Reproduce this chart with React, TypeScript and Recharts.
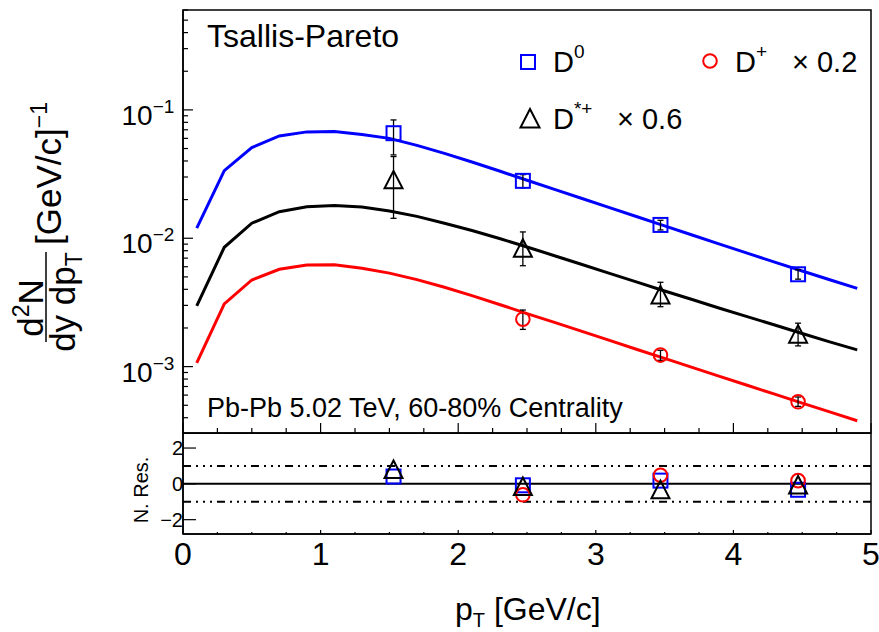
import React from 'react'
import {
  ComposedChart, Line, Scatter, XAxis, YAxis, ErrorBar,
  ReferenceLine, ReferenceArea, Legend, Customized,
} from 'recharts'

const FONT = '"Liberation Sans", Arial, Helvetica, sans-serif'
const BLUE = '#0000ff'
const RED = '#ff0000'
const BLACK = '#000000'

// Tsallis-Pareto fit curves, read every 0.2 GeV/c
const fitPt = [0.1, 0.3, 0.5, 0.7, 0.9, 1.1, 1.3, 1.5, 1.7, 1.9, 2.1, 2.3, 2.5, 2.7, 2.9, 3.1, 3.3, 3.5, 3.7, 3.9, 4.1, 4.3, 4.5, 4.7, 4.9]
const fitD0 = [0.0120, 0.0336, 0.0508, 0.0627, 0.0674, 0.0680, 0.0644, 0.0600, 0.0529, 0.0458, 0.0393, 0.0334, 0.0283, 0.0240, 0.0204, 0.0173, 0.0147, 0.0125, 0.0106, 0.00899, 0.00765, 0.00652, 0.00556, 0.00475, 0.00407]
const fitDstar = [0.00297, 0.00851, 0.0131, 0.0161, 0.0176, 0.0180, 0.0175, 0.0163, 0.0148, 0.0131, 0.0115, 0.00995, 0.00855, 0.00731, 0.00624, 0.00533, 0.00455, 0.00388, 0.00333, 0.00285, 0.00245, 0.00211, 0.00181, 0.00156, 0.00135]
const fitDplus = [0.00107, 0.00308, 0.00473, 0.00573, 0.00619, 0.00621, 0.00584, 0.00535, 0.00476, 0.00415, 0.00357, 0.00305, 0.00259, 0.00221, 0.00188, 0.00160, 0.00136, 0.00116, 0.000987, 0.000840, 0.000716, 0.000610, 0.000520, 0.000444, 0.000379]

// measured points (already scaled)
const ptD0 = [1.53, 2.47, 3.47, 4.47]
const yD0 = [0.0658, 0.0280, 0.0127, 0.00524]
const loD0 = [0.0446, 0.0247, 0.0116, 0.00480]
const hiD0 = [0.0835, 0.0313, 0.0138, 0.00568]
const resD0 = [0.41, -0.08, 0.18, -0.33]

const ptDstar = [1.53, 2.47, 3.47, 4.47]
const yDstar = [0.0285, 0.00836, 0.00361, 0.00179]
const loDstar = [0.0143, 0.00611, 0.00293, 0.00145]
const hiDstar = [0.0433, 0.0112, 0.00454, 0.00218]
const resDstar = [0.80, -0.15, -0.33, -0.06]

const ptDplus = [2.47, 3.47, 4.47]
const yDplus = [0.00234, 0.00123, 0.000532]
const loDplus = [0.00195, 0.00112, 0.00049]
const hiDplus = [0.00276, 0.00134, 0.00058]
const resDplus = [-0.61, 0.48, 0.18]

const yTicks = [
  4e-4, 5e-4, 6e-4, 7e-4, 8e-4, 9e-4,
  1e-3, 2e-3, 3e-3, 4e-3, 5e-3, 6e-3, 7e-3, 8e-3, 9e-3,
  1e-2, 2e-2, 3e-2, 4e-2, 5e-2, 6e-2, 7e-2, 8e-2, 9e-2,
  0.1, 0.2, 0.3, 0.4, 0.5, 0.6,
]
const xTicks = [0, 0.25, 0.5, 0.75, 1, 1.25, 1.5, 1.75, 2, 2.25, 2.5, 2.75, 3, 3.25, 3.5, 3.75, 4, 4.25, 4.5, 4.75, 5]
const resTicks = [-2, 0, 2]

const Y_MIN = 3.04e-4
const Y_MAX = 0.6
const R_MIN = -2.8
const R_MAX = 2.84

const fitData = fitPt.map((pt, i) => ({ pt, d0: fitD0[i], ds: fitDstar[i], dp: fitDplus[i] }))
const points = (pt: number[], y: number[], lo: number[], hi: number[]) =>
  pt.map((x, i) => ({ pt: x, y: y[i], err: [y[i] - lo[i], hi[i] - y[i]] }))
const resPoints = (pt: number[], r: number[]) => pt.map((x, i) => ({ pt: x, r: r[i] }))

const Square = ({ cx, cy }: any) => (
  <rect x={cx - 7} y={cy - 7} width={14} height={14} fill="none" stroke={BLUE} strokeWidth={2} />
)
const Circle = ({ cx, cy }: any) => (
  <circle cx={cx} cy={cy} r={6.8} fill="none" stroke={RED} strokeWidth={2} />
)
const Triangle = ({ cx, cy }: any) => (
  <path d={`M${cx},${cy - 9}L${cx + 9},${cy + 8.5}L${cx - 9},${cy + 8.5}Z`} fill="none" stroke={BLACK} strokeWidth={2} />
)

const isDecade = (v: number) => Math.abs(Math.log10(v) - Math.round(Math.log10(v))) < 1e-6

const LogTick = ({ x, y, payload }: any) => {
  const v = payload.value
  const major = isDecade(v)
  return (
    <g>
      <line x1={x} x2={x + (major ? 10 : 5)} y1={y} y2={y} stroke="#000" strokeWidth={1.2} />
      {major && (
        <text x={x - 61.5} y={y + 15} fontFamily={FONT} fontSize={28} fill="#000">
          10<tspan fontSize={19} dy={-12}>{'\u2212' + Math.abs(Math.round(Math.log10(v)))}</tspan>
        </text>
      )}
    </g>
  )
}

const TopXTick = ({ x, y, payload }: any) => {
  const major = Number.isInteger(payload.value)
  return <line x1={x} x2={x} y1={y} y2={y - (major ? 10 : 5)} stroke="#000" strokeWidth={1.2} />
}

const BottomXTick = ({ x, y, payload }: any) => {
  const major = Number.isInteger(payload.value)
  return (
    <g>
      <line x1={x} x2={x} y1={y} y2={y - (major ? 4 : 2)} stroke="#000" strokeWidth={1.2} />
      {major && (
        <text x={x} y={y + 31} textAnchor="middle" fontFamily={FONT} fontSize={32} fill="#000">
          {payload.value}
        </text>
      )}
    </g>
  )
}

const ResTick = ({ x, y, payload }: any) => (
  <g>
    <line x1={x} x2={x + 13} y1={y} y2={y} stroke="#000" strokeWidth={1.2} />
    <text x={x} y={y + 7} textAnchor="end" fontFamily={FONT} fontSize={20} fill="#000">
      {payload.value < 0 ? '\u2212' + Math.abs(payload.value) : payload.value}
    </text>
  </g>
)

const LegendBox = () => (
  <svg width={879} height={150} style={{ display: 'block' }}>
    <g fontFamily={FONT} fill="#000">
      <rect x={521} y={55} width={14} height={14} fill="none" stroke={BLUE} strokeWidth={2} />
      <text x={553} y={72} fontSize={29}>D<tspan fontSize={19} dy={-14}>0</tspan></text>
      <circle cx={710} cy={61} r={6.8} fill="none" stroke={RED} strokeWidth={2} />
      <text x={735} y={72} fontSize={29}>D<tspan fontSize={19} dy={-14}>+</tspan></text>
      <text x={792} y={72} fontSize={29}>{'\u00d7 0.2'}</text>
      <path d="M530,109L539.5,127.5L520.5,127.5Z" fill="none" stroke={BLACK} strokeWidth={2} />
      <text x={553} y={129} fontSize={29}>D<tspan fontSize={19} dy={-14}>{'*+'}</tspan></text>
      <text x={617} y={129} fontSize={29}>{'\u00d7 0.6'}</text>
    </g>
  </svg>
)

const TopTexts = () => (
  <g fontFamily={FONT} fill="#000">
    <text x={207} y={47} fontSize={32}>Tsallis-Pareto</text>
    <text x={207} y={417} fontSize={27}>Pb-Pb 5.02 TeV, 60-80% Centrality</text>
    <g transform="translate(46,297) rotate(-90)">
      <text x={-11} y={-3} textAnchor="middle" fontSize={35}>
        d<tspan fontSize={23} dy={-14}>2</tspan><tspan dy={14}>N</tspan>
      </text>
      <line x1={-45} x2={45} y1={0} y2={0} stroke="#000" strokeWidth={1.5} />
      <text x={-5} y={29} textAnchor="middle" fontSize={35}>
        dy dp<tspan fontSize={23} dy={7}>T</tspan>
      </text>
      <text x={52} y={15} fontSize={35}>
        [GeV/c]<tspan fontSize={23} dy={-14}>{'\u22121'}</tspan>
      </text>
    </g>
  </g>
)

const BottomTexts = () => (
  <g fontFamily={FONT} fill="#000">
    <text transform="translate(148,57) rotate(-90)" textAnchor="middle" fontSize={20}>N. Res.</text>
    <text x={455} y={187} fontSize={32}>
      p<tspan fontSize={20} dy={7}>T</tspan><tspan dy={-7}> [GeV/c]</tspan>
    </text>
  </g>
)

export default function App() {
  return (
    <div style={{ position: 'absolute', left: 0, top: 0, width: 879, height: 632, background: '#fff' }}>
      <div style={{ position: 'absolute', left: 0, top: 0 }}>
        <ComposedChart width={879} height={434} data={fitData} margin={{ top: 10, right: 8, bottom: 0, left: 0 }}>
          <XAxis
            dataKey="pt" type="number" domain={[0, 5]} ticks={xTicks} interval={0}
            allowDataOverflow height={1} tickSize={0} tickMargin={0} tickLine={false}
            axisLine={{ stroke: '#000', strokeWidth: 1.5 }} tick={<TopXTick />}
          />
          <YAxis
            type="number" scale="log" domain={[Y_MIN, Y_MAX]} allowDataOverflow ticks={yTicks}
            interval={0} width={183} tickSize={0} tickMargin={0} tickLine={false}
            axisLine={{ stroke: '#000', strokeWidth: 1.5 }} tick={<LogTick />}
          />
          <ReferenceArea x1={0} x2={5} y1={Y_MIN} y2={Y_MAX} fill="none" stroke="#000" strokeWidth={1.5} ifOverflow="visible" />
          <Line dataKey="d0" stroke={BLUE} strokeWidth={3} dot={false} isAnimationActive={false} />
          <Line dataKey="ds" stroke={BLACK} strokeWidth={3} dot={false} isAnimationActive={false} />
          <Line dataKey="dp" stroke={RED} strokeWidth={3} dot={false} isAnimationActive={false} />
          <Scatter data={points(ptD0, yD0, loD0, hiD0)} dataKey="y" shape={<Square />} isAnimationActive={false}>
            <ErrorBar dataKey="err" direction="y" width={3} stroke="#000" strokeWidth={1.3} />
          </Scatter>
          <Scatter data={points(ptDstar, yDstar, loDstar, hiDstar)} dataKey="y" shape={<Triangle />} isAnimationActive={false}>
            <ErrorBar dataKey="err" direction="y" width={3} stroke="#000" strokeWidth={1.3} />
          </Scatter>
          <Scatter data={points(ptDplus, yDplus, loDplus, hiDplus)} dataKey="y" shape={<Circle />} isAnimationActive={false}>
            <ErrorBar dataKey="err" direction="y" width={3} stroke="#000" strokeWidth={1.3} />
          </Scatter>
          <Legend
            layout="horizontal" verticalAlign="middle" align="center"
            wrapperStyle={{ left: 0, top: 0, width: 879, height: 150 }}
            content={() => <LegendBox />}
          />
          <Customized component={TopTexts} />
        </ComposedChart>
      </div>
      <div style={{ position: 'absolute', left: 0, top: 433 }}>
        <ComposedChart width={879} height={199} margin={{ top: 0, right: 8, bottom: 0, left: 0 }}>
          <XAxis
            dataKey="pt" type="number" domain={[0, 5]} ticks={xTicks} interval={0}
            allowDataOverflow height={98} tickSize={0} tickMargin={0} tickLine={false}
            axisLine={{ stroke: '#000', strokeWidth: 1.5 }} tick={<BottomXTick />}
          />
          <YAxis
            type="number" domain={[R_MIN, R_MAX]} allowDataOverflow ticks={resTicks} interval={0}
            width={183} tickSize={0} tickMargin={0} tickLine={false}
            axisLine={{ stroke: '#000', strokeWidth: 1.5 }} tick={<ResTick />}
          />
          <ReferenceArea x1={0} x2={5} y1={R_MIN} y2={R_MAX} fill="none" stroke="#000" strokeWidth={1.5} ifOverflow="visible" />
          <ReferenceLine y={0} stroke="#000" strokeWidth={2} />
          <ReferenceLine y={1} stroke="#000" strokeWidth={2} strokeDasharray="8 5 2 5 2 5 2 5" />
          <ReferenceLine y={-1} stroke="#000" strokeWidth={2} strokeDasharray="8 5 2 5 2 5 2 5" />
          <Scatter data={resPoints(ptD0, resD0)} dataKey="r" shape={<Square />} isAnimationActive={false} />
          <Scatter data={resPoints(ptDplus, resDplus)} dataKey="r" shape={<Circle />} isAnimationActive={false} />
          <Scatter data={resPoints(ptDstar, resDstar)} dataKey="r" shape={<Triangle />} isAnimationActive={false} />
          <Customized component={BottomTexts} />
        </ComposedChart>
      </div>
    </div>
  )
}
